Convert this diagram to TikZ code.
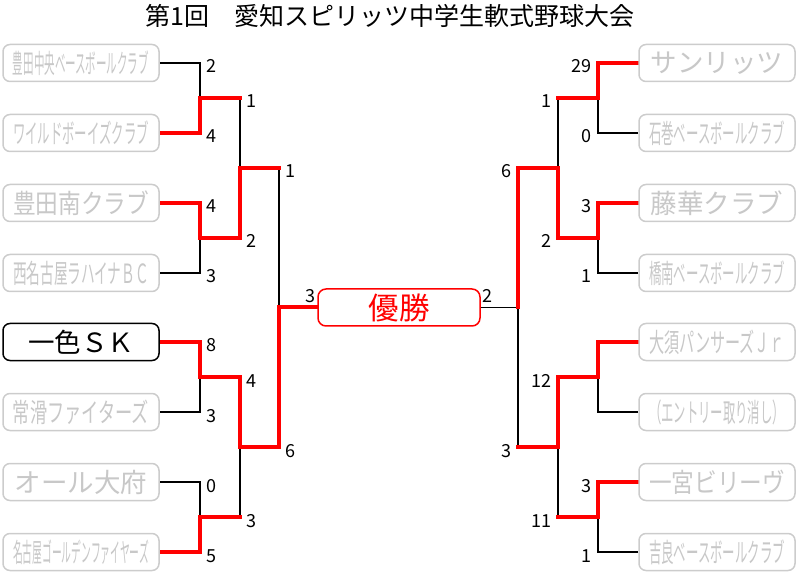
\documentclass[tikz,border=0pt]{standalone}
\usepackage{fontspec}
\setmainfont{Noto Sans CJK JP}
\usepackage{graphicx}
\usetikzlibrary{backgrounds}
\definecolor{tgray}{RGB}{200,200,200}
\definecolor{bgray}{RGB}{204,204,204}
\newsavebox\namebox
\newlength\nameht
\newcommand\fitname[1]{\sbox\namebox{#1}\setlength\nameht{\ht\namebox}\ifdim\wd\namebox>136pt\resizebox{136pt}{\nameht}{\usebox\namebox}\else\usebox\namebox\fi}
\tikzset{
  team/.style={draw=bgray, line width=1.5pt, rounded corners=7pt, fill=white, text=tgray,
    minimum width=156pt, minimum height=37pt, inner sep=0pt, font=\fontsize{26.5}{30}\selectfont},
  selteam/.style={team, draw=black, text=black},
  winbox/.style={draw=red, line width=1.5pt, rounded corners=8pt, fill=white, text=red,
    minimum width=162pt, minimum height=37pt, inner sep=0pt, font=\fontsize{30.5}{34}\selectfont},
  wline/.style={red, line width=4pt, line cap=rect},
  lline/.style={black, line width=1.8pt},
  score/.style={inner sep=0pt, font=\fontsize{18}{20}\selectfont},
  lsc/.style={score, anchor=base west, xshift=6pt, yshift=-10pt},
  rsc/.style={score, anchor=base east, xshift=-6pt, yshift=-10pt},
}
\begin{document}
\begin{tikzpicture}[x=1pt,y=-1pt]
\useasboundingbox (0,0) rectangle (798,577);
\node[font=\fontsize{25}{28}\selectfont, inner sep=0pt] (title) at (390,16) {第1回　愛知スピリッツ中学生軟式野球大会};
% left teams
\node[team] (L1) at (81,63) {\fitname{豊田中央ベースボールクラブ}};
\node[team] (L2) at (81,133) {\fitname{ワイルドボーイズクラブ}};
\node[team] (L3) at (81,203) {\fitname{豊田南クラブ}};
\node[team] (L4) at (81,273) {\fitname{西名古屋ラハイナＢＣ}};
\node[selteam] (L5) at (81,342) {\fitname{一色ＳＫ}};
\node[team] (L6) at (81,412) {\fitname{常滑ファイターズ}};
\node[team] (L7) at (81,482) {\fitname{オール大府}};
\node[team] (L8) at (81,552) {\fitname{名古屋ゴールデンファイヤーズ}};
% right teams
\node[team] (R1) at (717,63) {\fitname{サンリッツ}};
\node[team] (R2) at (717,133) {\fitname{石巻ベースボールクラブ}};
\node[team] (R3) at (717,203) {\fitname{藤華クラブ}};
\node[team] (R4) at (717,273) {\fitname{橋南ベースボールクラブ}};
\node[team] (R5) at (717,342) {\fitname{大須パンサーズＪｒ}};
\node[team] (R6) at (717,412) {\fitname{（エントリー取り消し）}};
\node[team] (R7) at (717,482) {\fitname{一宮ビリーヴ}};
\node[team] (R8) at (717,552) {\fitname{吉良ベースボールクラブ}};
% winner
\node[winbox] (W) at (399,307.5) {優勝};
% junctions
\coordinate (a1) at (200,98);
\coordinate (a2) at (200,238);
\coordinate (a3) at (200,377);
\coordinate (a4) at (200,517);
\coordinate (b1) at (240,168);
\coordinate (b2) at (240,447);
\coordinate (c1) at (279,307.5);
\coordinate (d1) at (598,98);
\coordinate (d2) at (598,238);
\coordinate (d3) at (598,377);
\coordinate (d4) at (598,517);
\coordinate (e1) at (558,168);
\coordinate (e2) at (558,447);
\coordinate (f1) at (518,307.5);
\begin{scope}[on background layer]
% black (losing) segments
\draw[lline] (L1.east) -| (a1);
\draw[lline] (L4.east) -| (a2);
\draw[lline] (L6.east) -| (a3);
\draw[lline] (L7.east) -| (a4);
\draw[lline] (a1 -| b1) -- (b1);
\draw[lline] (a4 -| b2) -- (b2);
\draw[lline] (b1 -| c1) -- (c1);
\draw[lline] (R2.west) -| (d1);
\draw[lline] (R4.west) -| (d2);
\draw[lline] (R6.west) -| (d3);
\draw[lline] (R8.west) -| (d4);
\draw[lline] (d1 -| e1) -- (e1);
\draw[lline] (d4 -| e2) -- (e2);
\draw[lline] (e2 -| f1) -- (f1);
\draw[lline] (f1) -- (W.east);
% red (winning) segments
\draw[wline] (L2.east) -| (a1);
\draw[wline] (L3.east) -| (a2);
\draw[wline] (L5.east) -| (a3);
\draw[wline] (L8.east) -| (a4);
\draw[wline] (a1) -- (a1 -| b1);
\draw[wline] (a2) -| (b1);
\draw[wline] (a3) -| (b2);
\draw[wline] (a4) -- (a4 -| b2);
\draw[wline] (b1) -- (b1 -| c1);
\draw[wline] (b2) -| (c1);
\draw[wline] (c1) -- (W.west);
\draw[wline] (R1.west) -| (d1);
\draw[wline] (R3.west) -| (d2);
\draw[wline] (R5.west) -| (d3);
\draw[wline] (R7.west) -| (d4);
\draw[wline] (d1) -- (d1 -| e1);
\draw[wline] (d2) -| (e1);
\draw[wline] (d3) -| (e2);
\draw[wline] (d4) -- (d4 -| e2);
\draw[wline] (e1) -| (f1);
\draw[wline] (e2) -- (e2 -| f1);
\end{scope}
% scores left
\node[lsc] (sL1) at (a1 |- L1.east) {2};
\node[lsc] (sL2) at (a1 |- L2.east) {4};
\node[lsc] (sL3) at (a2 |- L3.east) {4};
\node[lsc] (sL4) at (a2 |- L4.east) {3};
\node[lsc] (sL5) at (a3 |- L5.east) {8};
\node[lsc] (sL6) at (a3 |- L6.east) {3};
\node[lsc] (sL7) at (a4 |- L7.east) {0};
\node[lsc] (sL8) at (a4 |- L8.east) {5};
\node[lsc] (sa1) at (b1 |- a1) {1};
\node[lsc] (sa2) at (b1 |- a2) {2};
\node[lsc] (sa3) at (b2 |- a3) {4};
\node[lsc] (sa4) at (b2 |- a4) {3};
\node[lsc] (sb1) at (c1 |- b1) {1};
\node[lsc] (sb2) at (c1 |- b2) {6};
% scores right
\node[rsc] (sR1) at (d1 |- R1.west) {29};
\node[rsc] (sR2) at (d1 |- R2.west) {0};
\node[rsc] (sR3) at (d2 |- R3.west) {3};
\node[rsc] (sR4) at (d2 |- R4.west) {1};
\node[rsc] (sR7) at (d4 |- R7.west) {3};
\node[rsc] (sR8) at (d4 |- R8.west) {1};
\node[rsc] (sd1) at (e1 |- d1) {1};
\node[rsc] (sd2) at (e1 |- d2) {2};
\node[rsc] (sd3) at (e2 |- d3) {12};
\node[rsc] (sd4) at (e2 |- d4) {11};
\node[rsc] (se1) at (f1 |- e1) {6};
\node[rsc] (se2) at (f1 |- e2) {3};
% final scores
\node[score, anchor=base east, xshift=-2pt, yshift=4.5pt] (sfL) at (W.west) {3};
\node[score, anchor=base west, xshift=2pt, yshift=4.5pt] (sfR) at (W.east) {2};
\end{tikzpicture}
\end{document}
